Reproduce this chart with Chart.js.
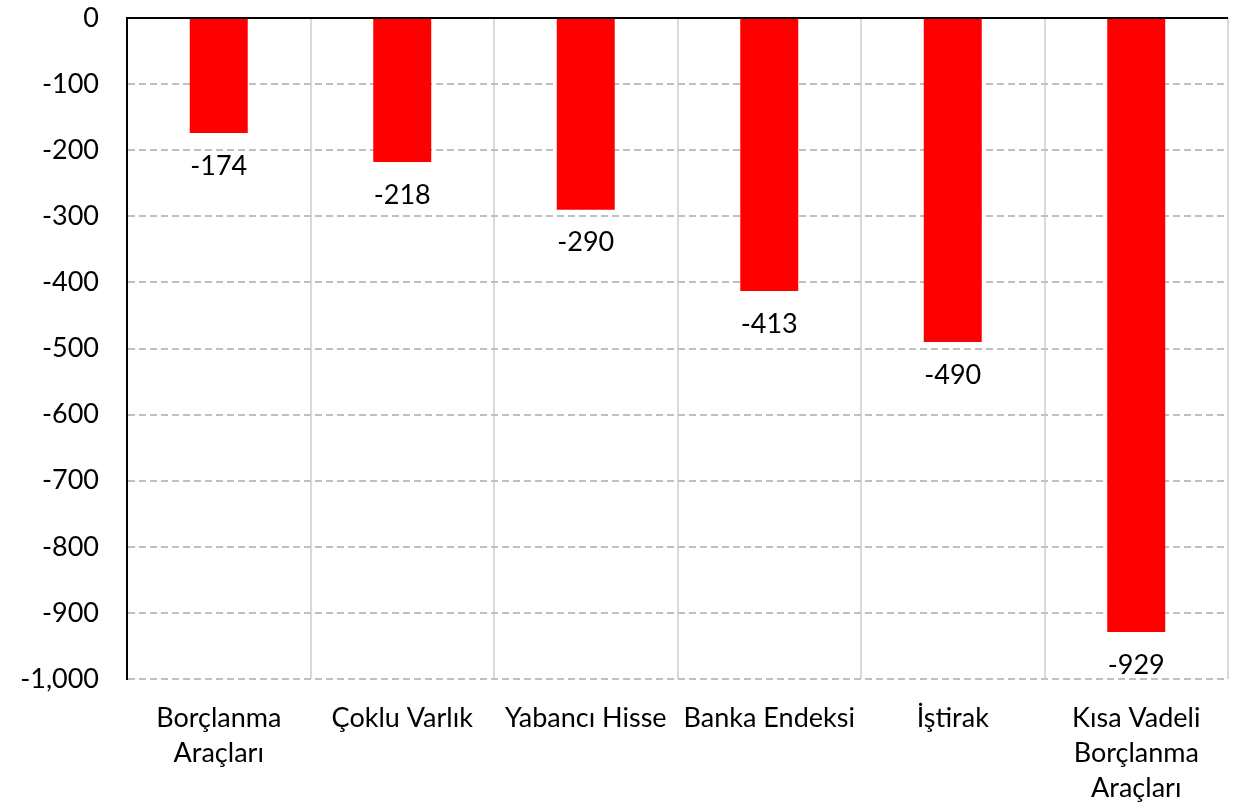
<!DOCTYPE html>
<html>
<head>
<meta charset="utf-8">
<script src="https://cdn.jsdelivr.net/npm/chart.js@4/dist/chart.umd.min.js"></script>
<style>
html,body{margin:0;padding:0;background:#fff;}
#wrap{width:1238px;height:808px;position:relative;}
</style>
</head>
<body>
<div id="wrap"><canvas id="c"></canvas></div>
<script>
const categories = [
  ["Borçlanma", "Araçları"],
  "Çoklu Varlık",
  "Yabancı Hisse",
  "Banka Endeksi",
  "İştirak",
  ["Kısa Vadeli", "Borçlanma", "Araçları"]
];
const values = [-174, -218, -290, -413, -490, -929];
const yMin = -1000;
const yMax = 0;
const yStep = 100;

const FONT = "Lato, 'Open Sans', sans-serif";
const FS = 27;

const labelPlugin = {
  id: 'barLabels',
  afterDatasetsDraw(chart) {
    const ctx = chart.ctx;
    const meta = chart.getDatasetMeta(0);
    ctx.save();
    ctx.font = FS + 'px ' + FONT;
    ctx.fillStyle = '#000';
    ctx.textAlign = 'center';
    ctx.textBaseline = 'middle';
    meta.data.forEach((bar, i) => {
      ctx.fillText(values[i].toLocaleString('en-US'), bar.x, bar.y + 33);
    });
    ctx.restore();
  }
};

new Chart(document.getElementById('c'), {
  type: 'bar',
  data: {
    labels: categories,
    datasets: [{
      data: values,
      backgroundColor: '#FF0000',
      borderWidth: 0,
      barPercentage: 0.316,
      categoryPercentage: 1.0
    }]
  },
  options: {
    responsive: true,
    maintainAspectRatio: false,
    animation: false,
    layout: { padding: { top: 18, right: 10, left: 0, bottom: 0 } },
    plugins: { legend: { display: false }, tooltip: { enabled: false } },
    scales: {
      x: {
        grid: { display: true, offset: true, color: '#d9d9d9', lineWidth: 2, drawTicks: false },
        border: { display: false },
        ticks: { color: '#000', font: { family: FONT, size: FS, lineHeight: 1.3 }, padding: 22, maxRotation: 0, autoSkip: false },
        afterFit(scale) { scale.height = 808 - 679; scale.paddingTop = 0; scale.paddingBottom = 0; }
      },
      y: {
        min: yMin, max: yMax,
        ticks: { stepSize: yStep, color: '#000', font: { family: FONT, size: FS }, padding: 28 },
        grid: {
          drawTicks: false,
          color: (c) => (c.tick && c.tick.value === 0) ? '#000' : '#c0c0c0',
          lineWidth: 2
        },
        border: {
          display: true, color: '#000', width: 2,
          dash: (c) => (c.tick && c.tick.value === 0) ? [] : [7, 4]
        },
        afterFit(scale) { scale.width = 127; scale.paddingTop = 0; scale.paddingBottom = 0; }
      }
    }
  },
  plugins: [labelPlugin]
});
</script>
</body>
</html>
